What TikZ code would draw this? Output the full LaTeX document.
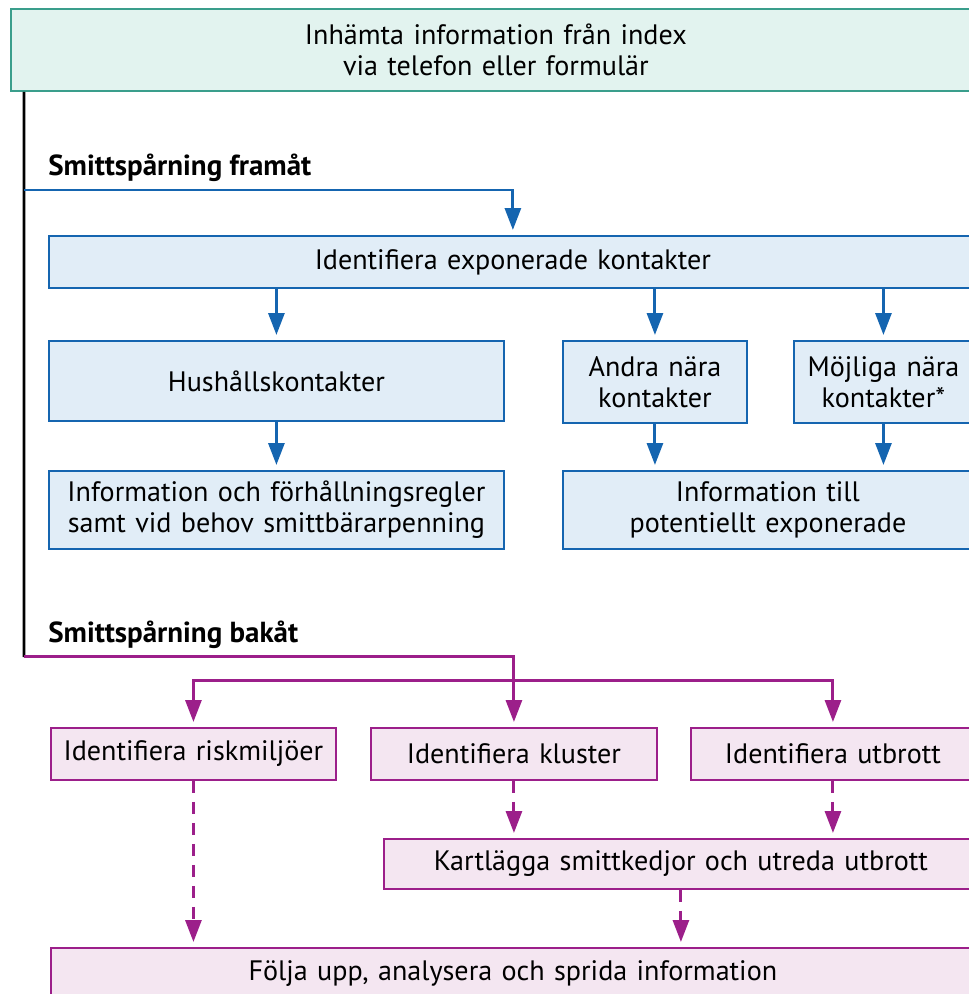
\documentclass[tikz,border=0pt]{standalone}
\usepackage{fontspec}
\setmainfont{PT Sans}
\usepackage{xcolor}
\usetikzlibrary{arrows.meta,positioning}
\definecolor{tealline}{HTML}{3A9E8C}
\definecolor{softteal}{HTML}{E2F3EF}
\definecolor{fwdblue}{HTML}{1565B0}
\definecolor{softblue}{HTML}{E1EDF7}
\definecolor{bwdpurple}{HTML}{9C1F8A}
\definecolor{softpurple}{HTML}{F4E6F1}

\begin{document}
\begin{tikzpicture}[x=0.02cm,y=-0.02cm,>={Triangle[length=0.44cm,width=0.32cm]},font=\fontsize{16}{17.5}\selectfont]
\tikzset{startbox/.style={draw=tealline,line width=1.1pt,fill=softteal,align=center,anchor=north west,inner xsep=0pt}}
\tikzset{fwdbox/.style={draw=fwdblue,line width=1.1pt,fill=softblue,align=center,anchor=north west,inner xsep=0pt}}
\tikzset{bwdbox/.style={draw=bwdpurple,line width=1.1pt,fill=softpurple,align=center,anchor=north west,inner xsep=0pt}}
\tikzset{fwdarrow/.style={->,draw=fwdblue,line width=1.7pt,shorten >=0.1cm}}
\tikzset{bwdarrow/.style={->,draw=bwdpurple,line width=1.7pt,shorten >=0.1cm}}
\tikzset{bwddash/.style={bwdarrow,dash pattern=on 0.24cm off 0.18cm}}
\tikzset{heading/.style={font=\fontsize{16.5}{18}\selectfont\bfseries,anchor=west,inner sep=0pt}}
\useasboundingbox (0,0) rectangle (969,994);
% start
\node[startbox,text width=19.4cm,minimum height=1.64cm] (index) at (10,8) {Inhämta information från index\\via telefon eller formulär};
% forward
\node[heading] (fwdlabel) at (48,168) {Smittspårning framåt};
\node[fwdbox,text width=18.56cm,minimum height=1.04cm] (expo) at (48,235) {Identifiera exponerade kontakter};
\node[fwdbox,text width=9.1cm,minimum height=1.6cm] (hush) at (48,340) {Hushållskontakter};
\node[fwdbox,text width=3.68cm,minimum height=1.64cm] (andra) at (562,340) {Andra nära\\kontakter};
\node[fwdbox,text width=3.58cm,minimum height=1.64cm] (mojl) at (793,340) {Möjliga nära\\kontakter*};
\node[fwdbox,text width=9.1cm,minimum height=1.56cm] (hinfo) at (48,470) {Information och förhållningsregler\\samt vid behov smittbärarpenning};
\node[fwdbox,text width=8.2cm,minimum height=1.56cm] (pinfo) at (562,470) {Information till\\potentiellt exponerade};
% backward
\node[heading] (bwdlabel) at (48,635) {Smittspårning bakåt};
\node[bwdbox,text width=5.7cm,minimum height=1.04cm] (risk) at (50,727) {Identifiera riskmiljöer};
\node[bwdbox,text width=5.72cm,minimum height=1.04cm] (klus) at (370,727) {Identifiera kluster};
\node[bwdbox,text width=5.68cm,minimum height=1.04cm] (utbr) at (690,727) {Identifiera utbrott};
\node[bwdbox,text width=11.88cm,minimum height=1.0cm] (kart) at (383,838) {Kartlägga smittkedjor och utreda utbrott};
\node[bwdbox,text width=18.48cm,minimum height=1.04cm] (folja) at (50,947) {Följa upp, analysera och sprida information};
\coordinate (fwd) at (24,190);
\coordinate (bwd) at (24,656);
\coordinate (fork) at (513,680);
% connectors
\draw[line width=1.7pt] ([xshift=0.28cm]index.south west) -- ([yshift=-0.02cm]bwd);
\draw[fwdarrow] (fwd) -| (expo.north);
\draw[fwdarrow] (expo.south -| hush.north) -- (hush.north);
\draw[fwdarrow] (expo.south -| andra.north) -- (andra.north);
\draw[fwdarrow] (expo.south -| mojl.north) -- (mojl.north);
\draw[fwdarrow] (hush) -- (hinfo);
\draw[fwdarrow] (andra.south) -- (andra.south |- pinfo.north);
\draw[fwdarrow] (mojl.south) -- (mojl.south |- pinfo.north);
\draw[bwdarrow] (bwd) -| (klus.north);
\draw[bwdarrow] (fork) -| (risk.north);
\draw[bwdarrow] (fork) -| (utbr.north);
\draw[bwddash] (klus.south) -- (klus.south |- kart.north);
\draw[bwddash] (utbr.south) -- (utbr.south |- kart.north);
\draw[bwddash] (risk.south) -- (risk.south |- folja.north);
\draw[bwddash] (kart.south) -- (kart.south |- folja.north);
\end{tikzpicture}
\end{document}
